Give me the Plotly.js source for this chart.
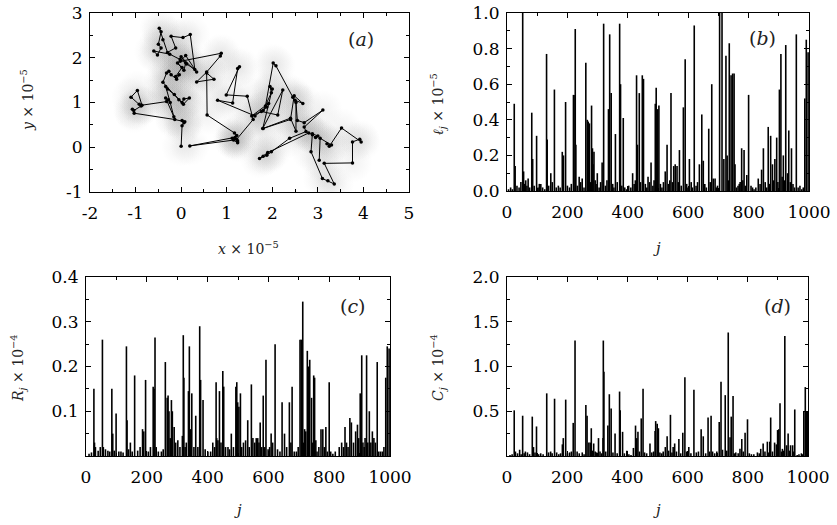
<!DOCTYPE html>
<html>
<head>
<meta charset="utf-8">
<script src="https://cdn.plot.ly/plotly-3.0.1.min.js"></script>
<style>html,body{margin:0;padding:0;background:#fff}#chart{width:837px;height:525px}</style>
</head>
<body>
<div id="chart"></div>
<script>
// ---- Panel (a): trajectory (units of 1e-5) ----
const pathX = [0.00,0.02,0.06,0.02,0.08,-0.14,-1.03,-1.07,-1.04,-0.88, -0.92,-1.10,-0.96,-0.86,-0.32,-0.28,-0.34,-0.16,-0.24,-0.34, -0.30,-0.15,0.02,0.06,0.18,0.05,-0.05,-0.40,-0.32,-0.27, -0.22,-0.10,-0.04,-0.12,0.02,-0.08,0.06,0.10,-0.02,-0.25, -0.60,-0.52,-0.44,-0.50,-0.44,-0.48,-0.40,-0.30,-0.12,-0.22, 0.04,0.20,0.30,0.12,0.00,0.34,0.10,-0.02,0.88,0.86, 0.56,0.34,0.72,0.56,0.57,1.17,1.22,1.12,1.24,1.18, 0.19,1.15,1.24,1.22,1.58,1.45,0.99,1.28,1.24,1.13, 0.80,1.62,1.88,1.80,1.98,1.95,2.00,1.79,2.23,2.12, 1.76,1.55,1.92,1.85,2.02,2.08,2.45,2.50,2.67,2.48, 2.40,1.80,2.40,2.52,2.52,2.55,2.70,3.11,2.70,2.74, 2.38,1.98,1.88,1.72,1.80,1.90,2.80,2.88,2.95,3.00, 2.88,2.85,3.10,3.22,3.36,3.14,3.76,3.76,3.92,3.95, 3.52,3.25,3.20,3.30,3.05,3.03];
const pathY = [0.02,0.48,0.55,0.60,0.57,0.62,0.76,0.85,0.82,0.92, 0.96,1.12,1.27,0.94,1.02,1.06,1.10,0.68,1.00,1.36, 1.30,1.18,1.00,1.08,1.10,0.96,1.06,1.45,1.66,1.70, 1.62,1.52,1.62,1.58,1.78,1.88,1.72,1.88,1.96,2.08, 2.15,2.06,2.22,2.30,2.58,2.66,2.40,2.12,2.22,2.48, 2.45,2.52,1.74,1.86,2.02,1.68,2.05,1.92,2.10,2.04, 1.68,1.46,1.52,1.66,0.72,0.32,0.26,0.20,0.14,0.22, 0.03,0.16,0.10,0.18,0.62,1.14,1.17,1.80,1.76,0.99, 1.05,0.70,0.90,0.82,1.22,1.36,1.30,0.42,1.28,0.72, 0.80,0.70,0.98,0.92,1.88,1.82,1.12,1.05,0.98,1.15, 0.62,0.42,0.65,0.36,1.00,0.60,0.55,0.83,0.45,0.35, 0.20,-0.10,-0.18,-0.25,-0.20,-0.12,0.32,0.28,0.22,0.25, 0.30,-0.10,-0.70,-0.75,-0.82,-0.36,-0.35,0.12,0.18,0.12, 0.43,0.02,0.08,0.05,0.20,-0.29];
const aXTicks = [-2,-1,0,1,2,3,4,5];
const aXText = ["-2","-1","0","1","2","3","4","5"];
const aYTicks = [-1,0,1,2,3];
const aYText = ["-1","0","1","2","3"];

// ---- Panel (b): step lengths l_j (units of 1e-5) ----
const bJ = [24,27,52,55,62,70,82,85,98,107,131,133,145,157,183,187,194,220,222,226,228,239,249,261,266,269,273,280,283,285,288,299,315,320,336,340,345,359,373,376,385,403,416,429,432,438,448,452,467,477,491,494,499,503,524,530,543,552,557,563,571,584,590,604,620,637,645,650,668,678,683,689,704,712,718,725,729,736,742,747,752,755,769,777,785,794,800,808,832,843,849,865,873,879,887,893,902,907,915,923,929,933,942,958,986,991,997];
const bV = [0.49,0.14,1.05,0.11,0.06,0.07,0.44,0.18,0.31,0.04,0.77,0.29,0.10,0.57,0.22,0.20,0.50,0.54,0.54,0.91,0.26,0.08,0.07,0.72,0.40,0.39,0.38,0.48,0.24,0.15,0.22,0.10,0.16,0.94,0.46,0.88,0.55,0.32,0.94,0.60,0.41,0.03,0.10,0.65,0.26,0.55,0.65,0.63,0.08,0.16,0.49,0.58,0.46,0.48,0.11,0.26,0.55,0.14,0.15,0.14,0.23,0.47,0.74,0.18,0.93,0.15,0.43,0.17,0.35,0.60,0.07,0.07,1.05,1.05,0.18,0.76,0.20,0.83,0.65,0.66,0.66,0.15,0.04,0.24,0.23,0.09,0.54,0.03,0.07,0.12,0.24,0.36,0.31,0.15,0.18,0.30,0.57,0.77,0.20,0.82,0.10,0.34,0.24,0.88,0.52,0.85,0.78];
const bSmallJ = [5,12,18,33,40,46,58,66,75,90,103,112,118,125,138,150,163,170,176,200,207,213,233,244,255,277,292,295,305,310,326,331,350,354,365,380,390,396,410,421,425,442,458,463,472,483,487,508,513,518,535,539,548,567,577,595,599,610,614,626,631,655,660,673,693,697,733,760,765,772,781,789,813,818,824,838,855,860,870,883,897,911,919,938,947,952,964,970,976,981];
const bSmallV = [0.01,0.02,0.01,0.03,0.02,0.05,0.04,0.03,0.02,0.03,0.02,0.04,0.02,0.01,0.03,0.05,0.02,0.03,0.02,0.03,0.02,0.04,0.03,0.05,0.02,0.05,0.06,0.04,0.02,0.05,0.03,0.06,0.04,0.02,0.05,0.03,0.02,0.01,0.02,0.04,0.06,0.05,0.04,0.02,0.05,0.03,0.06,0.04,0.02,0.05,0.04,0.06,0.05,0.05,0.03,0.04,0.02,0.05,0.02,0.03,0.05,0.04,0.02,0.05,0.02,0.03,0.06,0.02,0.03,0.05,0.06,0.03,0.02,0.01,0.02,0.04,0.05,0.02,0.04,0.06,0.05,0.08,0.06,0.05,0.04,0.02,0.02,0.03,0.01,0.02];
const bYTicks = [0,0.2,0.4,0.6,0.8,1.0];
const bYText = ["0.0","0.2","0.4","0.6","0.8","1.0"];

// ---- Panel (c): R_j (units of 1e-4) ----
const cJ = [26,28,31,54,57,64,72,85,88,99,108,133,135,146,160,186,190,196,221,224,227,231,248,261,267,270,273,281,284,290,302,317,320,322,330,337,340,348,361,374,377,385,401,417,428,430,439,450,453,467,478,493,496,499,503,508,525,532,544,549,560,565,573,583,592,609,614,622,645,653,669,678,685,704,708,713,719,723,728,731,736,742,749,752,756,773,779,789,800,805,833,841,852,868,873,887,893,902,907,915,923,932,942,947,958,969,986,991,997];
const cV = [0.15,0.03,0.02,0.26,0.02,0.015,0.012,0.15,0.05,0.095,0.01,0.245,0.08,0.03,0.18,0.06,0.055,0.17,0.155,0.15,0.265,0.02,0.01,0.21,0.13,0.135,0.10,0.125,0.10,0.065,0.035,0.045,0.27,0.175,0.03,0.145,0.245,0.14,0.09,0.29,0.17,0.125,0.01,0.03,0.165,0.04,0.145,0.19,0.155,0.02,0.05,0.155,0.165,0.12,0.11,0.14,0.035,0.08,0.16,0.04,0.04,0.04,0.075,0.135,0.215,0.05,0.03,0.25,0.12,0.05,0.12,0.155,0.01,0.26,0.26,0.345,0.06,0.055,0.235,0.20,0.215,0.13,0.18,0.175,0.035,0.06,0.06,0.065,0.165,0.01,0.02,0.03,0.065,0.085,0.075,0.055,0.07,0.14,0.225,0.02,0.225,0.10,0.055,0.04,0.21,0.01,0.175,0.245,0.24];
const cSmallJ = [10,18,40,47,78,93,115,122,140,152,170,178,205,212,238,254,277,295,309,326,344,355,368,392,410,423,434,444,459,472,485,512,518,537,555,569,578,588,599,604,630,638,660,674,692,698,716,745,760,766,784,794,812,820,847,857,862,880,897,911,918,927,937,952,963,975,980];
const cSmallV = [0.005,0.008,0.012,0.02,0.01,0.012,0.01,0.008,0.015,0.01,0.012,0.02,0.01,0.02,0.01,0.015,0.04,0.03,0.02,0.02,0.06,0.02,0.02,0.015,0.01,0.02,0.035,0.03,0.02,0.015,0.02,0.02,0.03,0.02,0.03,0.03,0.02,0.02,0.015,0.02,0.015,0.01,0.02,0.03,0.01,0.02,0.03,0.03,0.01,0.02,0.02,0.01,0.005,0.01,0.02,0.03,0.02,0.03,0.04,0.03,0.04,0.03,0.03,0.03,0.01,0.01,0.02];
const cYTicks = [0.1,0.2,0.3,0.4];
const cYText = ["0.1","0.2","0.3","0.4"];

// ---- Panel (d): C_j (units of 1e-4) ----
const dJ = [24,28,42,52,61,68,84,88,98,132,145,158,184,187,195,220,226,233,262,266,272,277,280,288,293,304,319,320,322,335,340,346,359,374,376,384,398,420,427,431,435,446,452,475,492,494,499,503,526,532,543,552,557,571,584,591,604,621,645,652,668,678,683,705,711,716,725,735,741,745,751,755,774,780,791,799,832,843,851,865,873,876,889,895,899,903,907,915,923,929,934,942,949,956,964,986,991,995,999];
const dV = [0.51,0.05,0.07,0.45,0.05,0.04,0.44,0.10,0.33,0.70,0.05,0.64,0.13,0.20,0.63,0.37,1.29,0.05,0.57,0.45,0.15,0.15,0.31,0.14,0.05,0.20,0.20,1.29,0.94,0.34,0.69,0.53,0.25,0.72,0.51,0.27,0.06,0.09,0.34,0.20,0.27,0.42,0.75,0.14,0.28,0.39,0.36,0.31,0.10,0.22,0.46,0.10,0.14,0.19,0.26,0.88,0.10,0.74,0.30,0.22,0.43,0.45,0.05,0.38,0.83,0.07,0.68,1.38,0.21,0.44,0.67,0.03,0.08,0.19,0.26,0.41,0.04,0.08,0.14,0.16,0.16,0.43,0.15,0.13,0.29,0.30,0.59,0.08,1.34,0.12,0.25,0.12,0.12,0.52,0.01,0.50,0.77,0.50,0.50];
const dSmallJ = [10,17,35,47,57,75,93,105,112,120,138,150,165,172,178,201,208,214,240,250,256,284,298,309,314,328,352,366,390,405,412,440,457,464,481,487,508,514,519,537,548,563,577,597,611,629,636,660,673,690,697,730,760,768,785,805,812,820,838,857,869,882,912,919,938,953,970,978,982];
const dSmallV = [0.01,0.02,0.03,0.02,0.03,0.02,0.04,0.02,0.03,0.02,0.04,0.03,0.04,0.02,0.03,0.03,0.04,0.05,0.03,0.04,0.02,0.06,0.04,0.05,0.03,0.05,0.04,0.03,0.03,0.02,0.01,0.05,0.04,0.03,0.04,0.05,0.04,0.03,0.05,0.06,0.04,0.05,0.03,0.05,0.03,0.04,0.05,0.03,0.05,0.03,0.05,0.06,0.04,0.03,0.05,0.03,0.02,0.02,0.03,0.05,0.04,0.05,0.05,0.06,0.06,0.05,0.02,0.03,0.02];
const dYTicks = [0.5,1.0,1.5,2.0];
const dYText = ["0.5","1.0","1.5","2.0"];

const jTicks = [0,200,400,600,800,1000];
const jText = ["0","200","400","600","800","1000"];

// ---- helpers ----
function impulses(js, vs, xa, ya) {
  const x = [], y = [];
  js.forEach((j, i) => { x.push(j, j, null); y.push(0, vs[i], null); });
  return {type:'scatter', mode:'lines', x, y, xaxis:xa, yaxis:ya,
          line:{color:'#000', width:1.6}, hoverinfo:'skip', showlegend:false};
}
const F = 'DejaVu Serif';
function ax(extra) {
  return Object.assign({
    showline:true, linecolor:'#000', linewidth:1, mirror:'allticks',
    ticks:'inside', ticklen:5, tickwidth:1, tickcolor:'#000',
    showgrid:false, zeroline:false, fixedrange:true,
    tickfont:{family:F, size:17, color:'#000'},
    tickmode:'array'
  }, extra);
}
function minorTicks(d) {
  return {ticks:'inside', ticklen:3, tickcolor:'#000', tickwidth:1, tickmode:'linear', tick0:0, dtick:d, showgrid:false};
}
const W = 837, H = 525;
const px = (a, b) => [a / W, b / W];
const py = (top, bottom) => [1 - bottom / H, 1 - top / H];

const traces = [
  {type:'scatter', mode:'markers', x:pathX, y:pathY, xaxis:'x', yaxis:'y',
   marker:{size:40, color:'rgba(140,140,140,0)', line:{width:0},
           gradient:{type:'radial', color:'rgba(140,140,140,0.12)'}},
   hoverinfo:'skip', showlegend:false},
  {type:'scatter', mode:'lines+markers', x:pathX, y:pathY, xaxis:'x', yaxis:'y',
   line:{color:'#000', width:1}, marker:{size:3.5, color:'#000'}, hoverinfo:'skip', showlegend:false},
  impulses(bSmallJ, bSmallV, 'x2', 'y2'),
  impulses(bJ, bV, 'x2', 'y2'),
  impulses(cSmallJ, cSmallV, 'x3', 'y3'),
  impulses(cJ, cV, 'x3', 'y3'),
  impulses(dSmallJ, dSmallV, 'x4', 'y4'),
  impulses(dJ, dV, 'x4', 'y4')
];

const layout = {
  width:W, height:H, margin:{l:0, r:0, t:0, b:0},
  paper_bgcolor:'#fff', plot_bgcolor:'#fff', showlegend:false,
  xaxis: ax({domain:px(90,409), range:[-2,5], anchor:'y', tickvals:aXTicks, ticktext:aXText, ticklabelstandoff:6, minor:minorTicks(0.5)}),
  yaxis: ax({domain:py(13,192), range:[-1,3], anchor:'x', tickvals:aYTicks, ticktext:aYText, ticklabelstandoff:3, minor:minorTicks(0.5)}),
  xaxis2: ax({domain:px(507,809), range:[0,1000], anchor:'y2', tickvals:jTicks, ticktext:jText, ticklabelstandoff:6, minor:minorTicks(100)}),
  yaxis2: ax({domain:py(13,191), range:[0,1], anchor:'x2', tickvals:bYTicks, ticktext:bYText, ticklabelstandoff:3, minor:minorTicks(0.1)}),
  xaxis3: ax({domain:px(86,390), range:[0,1000], anchor:'y3', tickvals:jTicks, ticktext:jText, ticklabelstandoff:6, minor:minorTicks(100)}),
  yaxis3: ax({domain:py(277,456), range:[0,0.4], anchor:'x3', tickvals:cYTicks, ticktext:cYText, ticklabelstandoff:3, minor:minorTicks(0.05)}),
  xaxis4: ax({domain:px(507,808), range:[0,1000], anchor:'y4', tickvals:jTicks, ticktext:jText, ticklabelstandoff:6, minor:minorTicks(100)}),
  yaxis4: ax({domain:py(277,456), range:[0,2], anchor:'x4', tickvals:dYTicks, ticktext:dYText, ticklabelstandoff:3, minor:minorTicks(0.25)}),
  annotations: []
};

function note(text, xPix, yPix, size, angle) {
  layout.annotations.push({text, xref:'paper', yref:'paper', x:xPix / W, y:1 - yPix / H,
    xanchor:'center', yanchor:'middle', showarrow:false, textangle:angle || 0,
    font:{family:F, size, color:'#222'}});
}
// axis titles
note('<i>x</i> × 10<sup>−5</sup>', 249, 248, 14);
note('<i>y</i> × 10<sup>−5</sup>', 27, 100, 14, -90);
note('<i>j</i>', 657, 248, 15);
note('<i>ℓ<sub>j</sub></i> × 10<sup>−5</sup>', 438, 104, 14, -90);
note('<i>j</i>', 238, 510, 15);
note('<i>R<sub>j</sub></i> × 10<sup>−4</sup>', 18, 368, 14, -90);
note('<i>j</i>', 657, 510, 15);
note('<i>C<sub>j</sub></i> × 10<sup>−4</sup>', 438, 368, 14, -90);
// panel labels
note('(<i>a</i>)', 361, 39, 19);
note('(<i>b</i>)', 762, 38, 19);
note('(<i>c</i>)', 353, 306, 19);
note('(<i>d</i>)', 777, 306, 19);

Plotly.newPlot('chart', traces, layout, {staticPlot:true, displayModeBar:false});
</script>
</body>
</html>
